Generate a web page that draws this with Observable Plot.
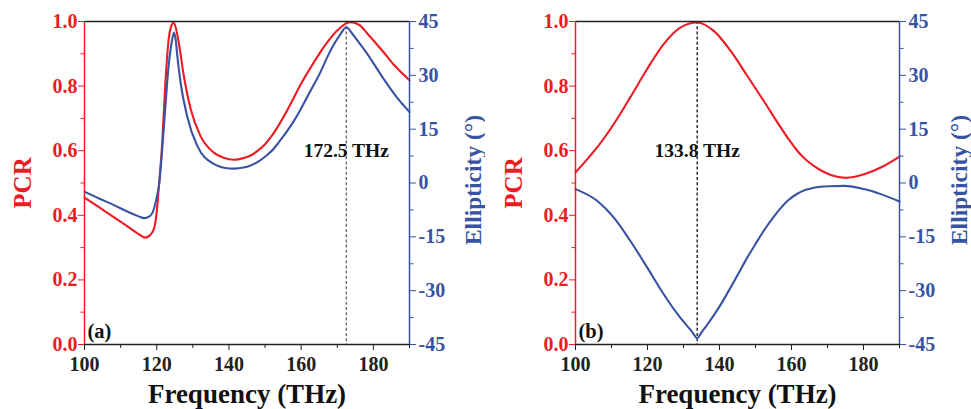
<!DOCTYPE html>
<html>
<head>
<meta charset="utf-8">
<script src="https://cdn.jsdelivr.net/npm/d3@7"></script>
<script src="https://cdn.jsdelivr.net/npm/@observablehq/plot@0.6"></script>
<style>
  html, body { margin: 0; padding: 0; background: #fff; }
  #wrap { display: flex; width: 971px; height: 409px; overflow: hidden; }
</style>
</head>
<body>
<div id="wrap"></div>
<script>
// ---------- Data ----------
// Panel (a)
const freqA_pcr = [100, 104, 108, 112, 115, 116.8, 118, 119.2, 120, 120.6, 121.5, 122.4, 123.3, 124, 124.7, 125.4, 126.1, 127.5, 129.4, 132.1, 135.8, 138.5, 141.5, 144, 146, 148, 150, 152, 154, 156, 158, 160, 162.6, 165, 167, 170, 173.5, 176, 178.3, 182.9, 186, 190];
const pcrA      = [0.455, 0.425, 0.395, 0.365, 0.342, 0.331, 0.337, 0.357, 0.41, 0.49, 0.62, 0.81, 0.945, 0.985, 0.997, 0.975, 0.935, 0.832, 0.729, 0.646, 0.594, 0.578, 0.572, 0.577, 0.585, 0.600, 0.620, 0.648, 0.683, 0.722, 0.765, 0.808, 0.857, 0.900, 0.932, 0.972, 0.998, 0.99, 0.963, 0.904, 0.862, 0.818];
const freqA_ell = [100, 104, 108, 112, 115, 116.5, 118, 119.2, 120, 120.6, 122, 123.3, 124.2, 124.8, 125.3, 125.7, 126.6, 128.4, 131.2, 135.8, 139, 141.5, 144, 146, 148, 150, 152, 154, 156, 158, 160, 162.6, 165, 167.2, 169, 170.9, 172.5, 174, 175.5, 178.3, 182.9, 186, 190];
const ellA      = [-2.4, -4.3, -6.1, -8.0, -9.3, -9.8, -9.3, -7.3, -4.0, -0.9, 15.9, 32.7, 39.5, 41.9, 39.5, 35.4, 28.0, 18.7, 10.4, 5.3, 4.2, 4.0, 4.3, 4.9, 5.9, 7.3, 9.1, 11.6, 14.3, 17.3, 20.8, 25.7, 30.2, 35.0, 38.5, 41.5, 43.4, 41.8, 39.8, 36.0, 28.9, 24.5, 19.8];
// Panel (b)
const freqB_pcr = [100, 103, 106, 110.6, 115.2, 119.9, 124.5, 129.1, 133.8, 138.4, 143.1, 147.7, 152.3, 157, 159.3, 161.6, 164, 166.2, 168.5, 170.9, 175.1, 180.2, 184.8, 190];
const pcrB      = [0.533, 0.57, 0.61, 0.682, 0.765, 0.853, 0.93, 0.981, 0.997, 0.971, 0.909, 0.832, 0.754, 0.672, 0.634, 0.600, 0.572, 0.553, 0.537, 0.525, 0.516, 0.527, 0.548, 0.582];
const freqB_ell = [100, 106, 110.6, 115.2, 119.9, 124.5, 129.1, 131, 132.5, 133.8, 135, 136.5, 138.4, 140.5, 143.1, 145.5, 147.7, 150, 152.3, 155, 157, 159, 161.6, 164, 166.2, 170.5, 174.7, 180.2, 184.8, 190];
const ellB      = [-1.7, -4.96, -9.6, -16.1, -23.5, -31.0, -37.5, -39.8, -41.6, -43.3, -41.6, -39.6, -36.9, -33.6, -29.1, -24.8, -20.8, -17.0, -13.3, -9.5, -7.0, -4.9, -3.0, -1.9, -1.3, -0.9, -0.8, -1.7, -3.1, -5.15];

// Ticks and labels
const xMajor = [100, 120, 140, 160, 180];
const xMinor = [110, 130, 150, 170, 190];
const pcrMajor = [0, 0.2, 0.4, 0.6, 0.8, 1.0];
const pcrMinor = [0.1, 0.3, 0.5, 0.7, 0.9];
const ellMajor = [-45, -30, -15, 0, 15, 30, 45];
const ellMinor = [-37.5, -22.5, -7.5, 7.5, 22.5, 37.5];
const xLabel = "Frequency (THz)";
const pcrLabel = "PCR";
const ellLabel = "Ellipticity (°)";

// ---------- Styling ----------
const RED = "#ED1C24";
const BLUE = "#3953A4";
const FONT = "'Liberation Serif', 'Times New Roman', serif";
const ellToY = e => (e + 45) / 90;

function panel(cfg) {
  const red = cfg.fp.map((f, i) => ({f, v: cfg.pcr[i]}));
  const blue = cfg.fe.map((f, i) => ({f, v: cfg.ell[i]}));
  return Plot.plot({
    width: cfg.width, height: 409,
    marginLeft: cfg.ml, marginRight: cfg.mr, marginTop: 21, marginBottom: 65,
    style: {fontFamily: FONT, fontWeight: "bold", fontSize: "20px", background: "#fff", overflow: "visible"},
    x: {domain: [100, 190]},
    y: {domain: [0, 1]},
    marks: [
      Plot.ruleX([cfg.peak], {stroke: cfg.dashColor, strokeWidth: 1.3, strokeDasharray: "3,2.2"}),
      Plot.line(red, {x: "f", y: "v", stroke: RED, strokeWidth: 2.1, curve: "monotone-x"}),
      Plot.line(blue, {x: "f", y: d => ellToY(d.v), stroke: BLUE, strokeWidth: 2.1, curve: "monotone-x"}),
      Plot.ruleY([1], {stroke: "#222", strokeWidth: 1.5}),
      Plot.ruleY([0], {stroke: "#222", strokeWidth: 1.5}),
      Plot.ruleX([100], {stroke: RED, strokeWidth: 1.5}),
      Plot.ruleX([190], {stroke: BLUE, strokeWidth: 1.5}),
      // x axis
      Plot.axisX({ticks: xMajor, label: null, tickSize: 6, tickPadding: 6, tickFormat: d => String(d), color: "#222", fontSize: 20, fontWeight: "bold"}),
      Plot.axisX({ticks: xMinor, label: null, tickSize: 4, tickFormat: () => "", color: "#222"}),
      // left PCR axis
      Plot.axisY({anchor: "left", ticks: pcrMajor, label: null, tickSize: 6, tickPadding: 1, tickFormat: d => d.toFixed(1), color: RED, fontSize: 20, fontWeight: "bold"}),
      Plot.axisY({anchor: "left", ticks: pcrMinor, label: null, tickSize: 3.5, tickFormat: () => "", color: RED}),
      // right Ellipticity axis
      Plot.axisY({anchor: "right", ticks: ellMajor.map(ellToY), label: null, tickSize: 6, tickPadding: 3, tickFormat: d => String(Math.round(d * 90 - 45)), color: BLUE, fontSize: 20, fontWeight: "bold"}),
      Plot.axisY({anchor: "right", ticks: ellMinor.map(ellToY), label: null, tickSize: 3.5, tickFormat: () => "", color: BLUE}),
      // annotations
      Plot.text([cfg.peakLabel], {x: cfg.peak, y: 0.579, text: d => d, lineAnchor: "bottom", textAnchor: "middle", fill: "#111", fontSize: 19.5, fontWeight: "bold"}),
      Plot.text([cfg.tag], {frameAnchor: "bottom-left", dx: 3, dy: -7, text: d => d, lineAnchor: "bottom", textAnchor: "start", fill: "#111", fontSize: 20.5, fontWeight: "bold"}),
      // axis titles
      Plot.text([xLabel], {frameAnchor: "bottom", dy: 58, text: d => d, lineAnchor: "bottom", textAnchor: "middle", fill: "#111", fontSize: 27, fontWeight: "bold"}),
      Plot.text([pcrLabel], {frameAnchor: "left", dx: -62, text: d => d, rotate: -90, lineAnchor: "middle", textAnchor: "middle", fill: RED, fontSize: 25, fontWeight: "bold"}),
      Plot.text([ellLabel], {frameAnchor: "right", dx: cfg.ellDx, dy: -3, text: d => d, rotate: -90, lineAnchor: "middle", textAnchor: "middle", fill: BLUE, fontSize: 23.5, fontWeight: "bold"})
    ]
  });
}

const wrap = document.getElementById("wrap");
wrap.appendChild(panel({width: 485, ml: 84, mr: 76, fp: freqA_pcr, pcr: pcrA, fe: freqA_ell, ell: ellA, peak: 172.5, peakLabel: "172.5 THz", tag: "(a)", dashColor: "#666", ellDx: 64}));
wrap.appendChild(panel({width: 486, ml: 90, mr: 72, fp: freqB_pcr, pcr: pcrB, fe: freqB_ell, ell: ellB, peak: 133.8, peakLabel: "133.8 THz", tag: "(b)", dashColor: "#111", ellDx: 60}));
</script>
</body>
</html>
